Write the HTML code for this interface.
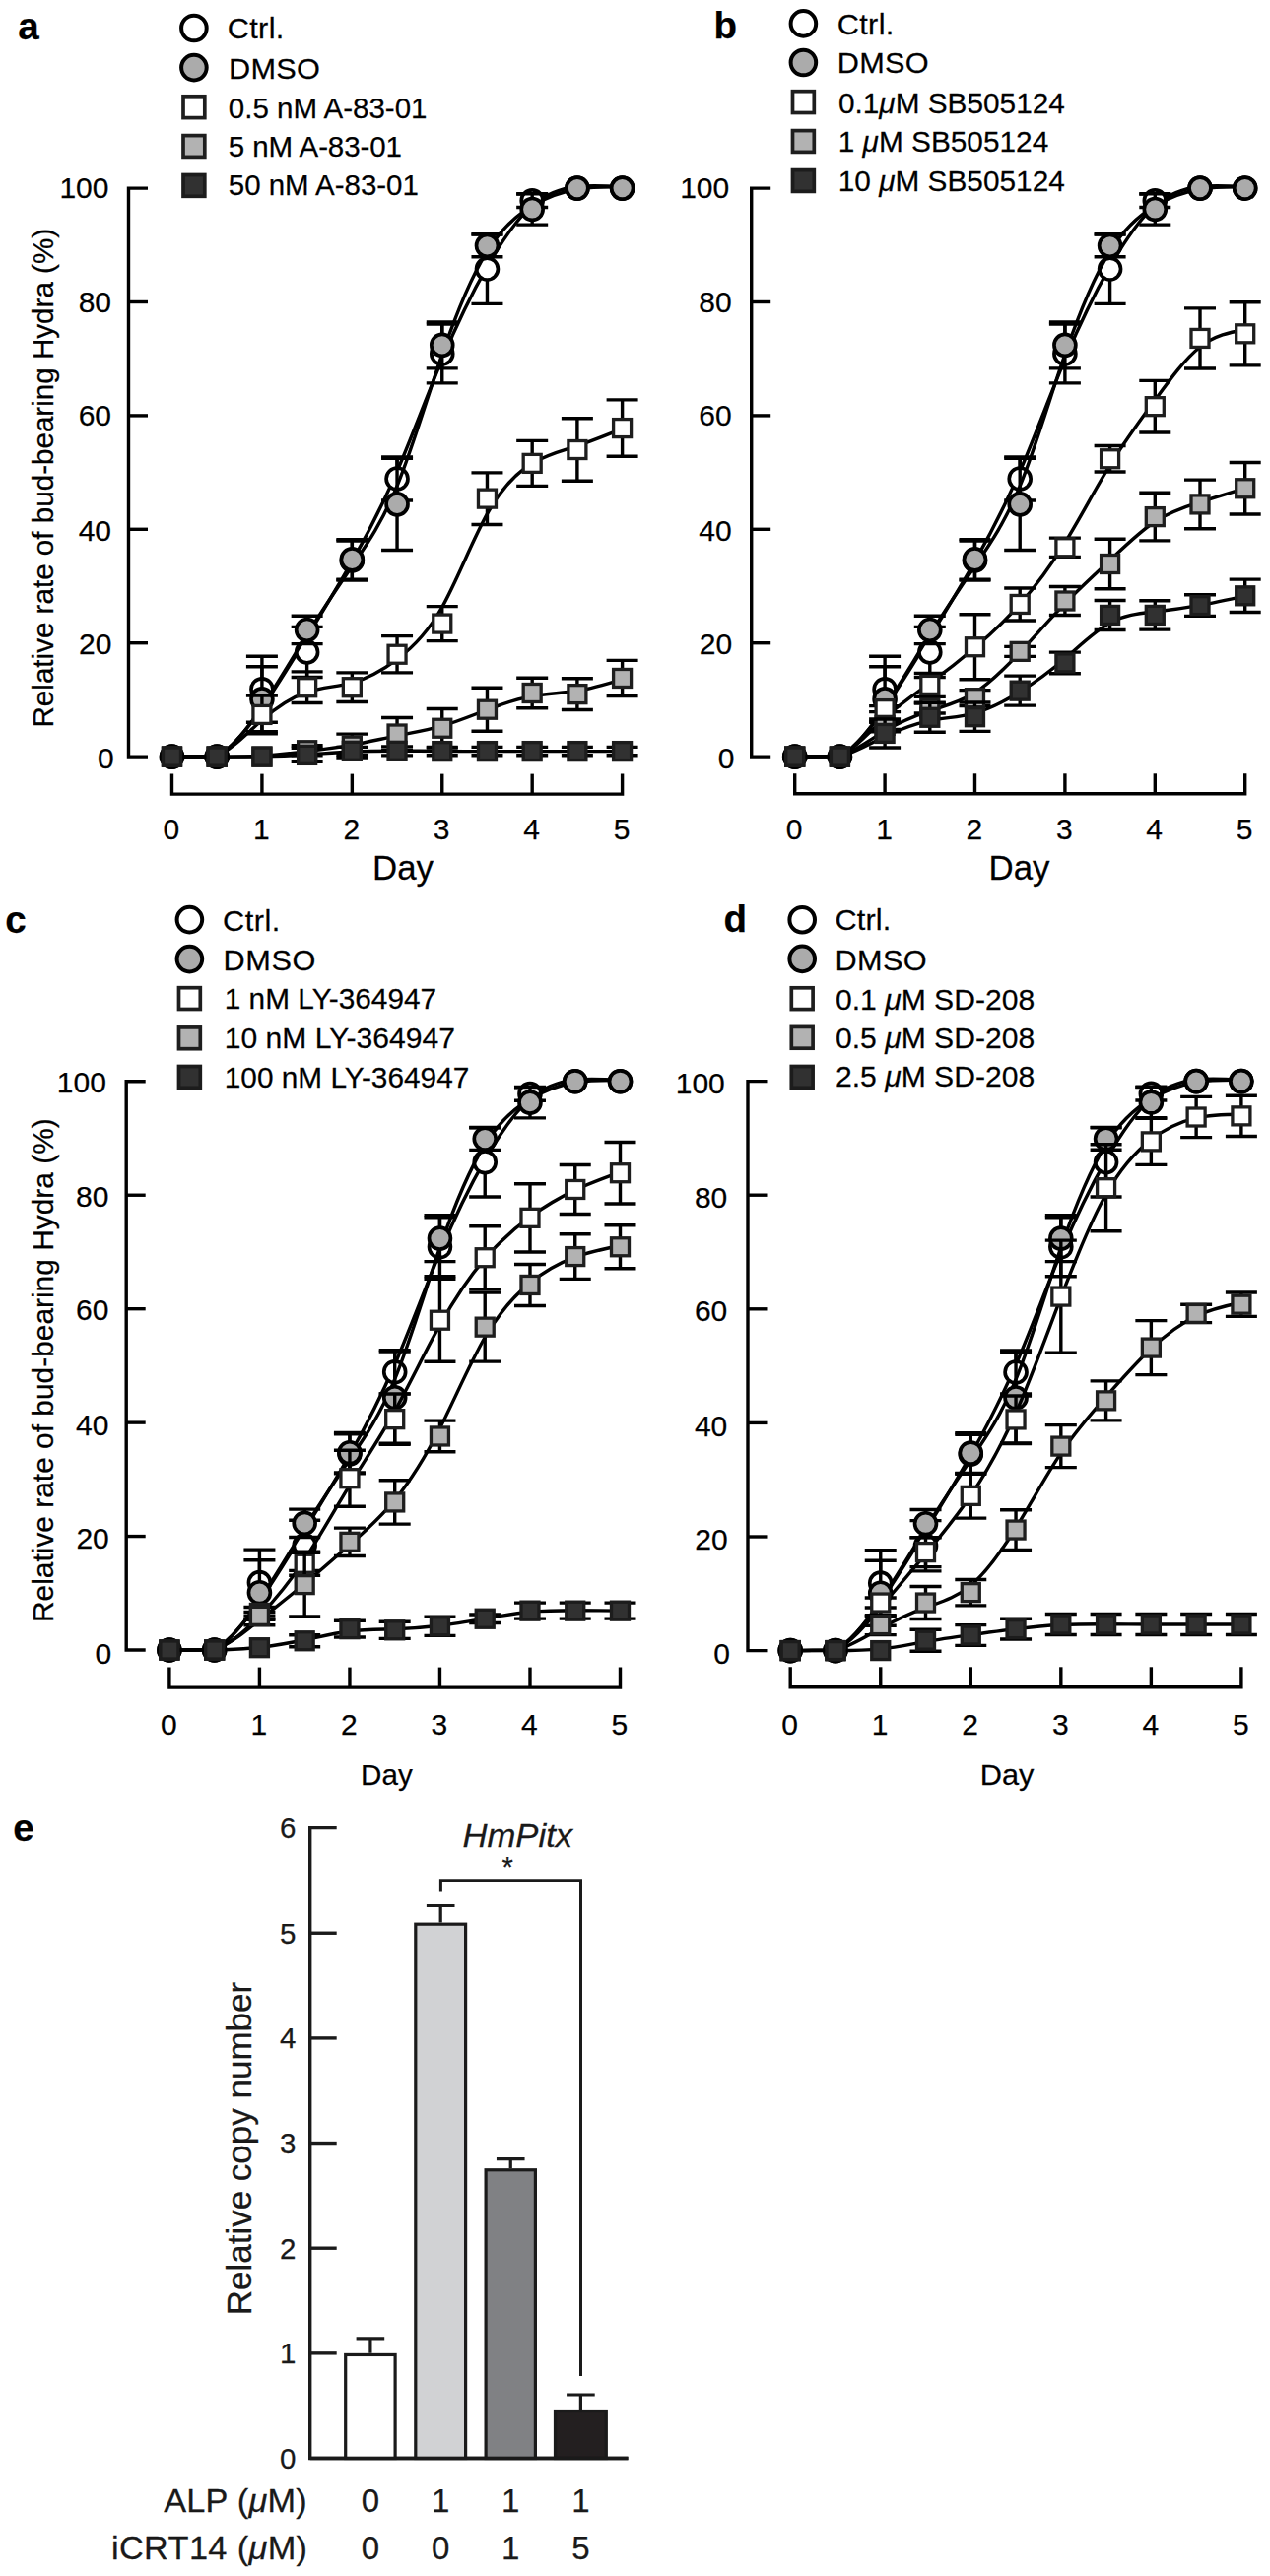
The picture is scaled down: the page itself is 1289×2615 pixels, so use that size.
<!DOCTYPE html><html><head><meta charset="utf-8"><title>Figure</title><style>html,body{margin:0;padding:0;background:#fff;}svg{display:block;}</style></head><body>
<svg width="1289" height="2615" viewBox="0 0 1289 2615">
<style>text{stroke:#111;stroke-width:0.25px}</style>
<rect width="1289" height="2615" fill="#fff"/>
<g stroke="#000" stroke-width="3.4" fill="none">
<path d="M150,191.1 H130.5 V768.1 H150"/>
<path d="M130.5,652.7 H150"/>
<path d="M130.5,537.3 H150"/>
<path d="M130.5,421.9 H150"/>
<path d="M130.5,306.5 H150"/>
<path d="M174.5,785.6 V806.1 H631.6 V785.6"/>
<path d="M265.92,806.1 V785.6"/>
<path d="M357.34,806.1 V785.6"/>
<path d="M448.76,806.1 V785.6"/>
<path d="M540.18,806.1 V785.6"/>
</g>
<g fill="#000" style='font-family:"Liberation Sans", sans-serif;font-size:30px'>
<text x="115.7" y="780.4" text-anchor="end">0</text>
<text x="113.4" y="663.9" text-anchor="end">20</text>
<text x="113" y="548.5" text-anchor="end">40</text>
<text x="113" y="432.2" text-anchor="end">60</text>
<text x="113" y="317" text-anchor="end">80</text>
<text x="110.5" y="200.6" text-anchor="end">100</text>
<text x="173.9" y="852.2" text-anchor="middle">0</text>
<text x="265.32" y="852.2" text-anchor="middle">1</text>
<text x="356.74" y="852.2" text-anchor="middle">2</text>
<text x="448.16" y="852.2" text-anchor="middle">3</text>
<text x="539.58" y="852.2" text-anchor="middle">4</text>
<text x="631" y="852.2" text-anchor="middle">5</text>
</g>
<path d="M174.5,768.1 L220.21,767.63 C235.45,759.84 250.68,740.75 265.92,718.68 C281.16,696.61 296.39,671.56 311.63,646.63 C326.87,621.7 342.1,596.89 357.34,569.92 C372.58,542.96 387.81,513.83 403.05,478.42 C418.29,443.01 433.52,401.32 448.76,364.88 C464,328.45 479.23,297.27 494.47,270.66 C509.71,244.04 524.94,222 540.18,208.77 C555.42,195.55 570.65,191.15 585.89,189.46 C601.13,187.77 616.36,188.79 631.6,189.8" fill="none" stroke="#000" stroke-width="3.4" stroke-linejoin="round"/>
<path d="M265.92,666.23 V733.23 M249.92,666.23 H281.92 M249.92,733.23 H281.92 M311.63,636.33 V687.53 M295.63,636.33 H327.63 M295.63,687.53 H327.63 M357.34,549.04 V589.04 M341.34,549.04 H373.34 M341.34,589.04 H373.34 M403.05,463.85 V508.05 M387.05,463.85 H419.05 M387.05,508.05 H419.05 M448.76,329.11 V388.91 M432.76,329.11 H464.76 M432.76,388.91 H464.76 M494.47,237.73 V308.33 M478.47,237.73 H510.47 M478.47,308.33 H510.47 M540.18,197.09 V210.49 M524.18,197.09 H556.18 M524.18,210.49 H556.18" fill="none" stroke="#000" stroke-width="3.4"/>
<circle cx="174.5" cy="768.1" r="10.95" fill="#fff" stroke="#000" stroke-width="3.7"/>
<circle cx="220.21" cy="768.1" r="10.95" fill="#fff" stroke="#000" stroke-width="3.7"/>
<circle cx="265.92" cy="699.73" r="10.95" fill="#fff" stroke="#000" stroke-width="3.7"/>
<circle cx="311.63" cy="661.93" r="10.95" fill="#fff" stroke="#000" stroke-width="3.7"/>
<circle cx="357.34" cy="569.04" r="10.95" fill="#fff" stroke="#000" stroke-width="3.7"/>
<circle cx="403.05" cy="485.95" r="10.95" fill="#fff" stroke="#000" stroke-width="3.7"/>
<circle cx="448.76" cy="359.01" r="10.95" fill="#fff" stroke="#000" stroke-width="3.7"/>
<circle cx="494.47" cy="273.03" r="10.95" fill="#fff" stroke="#000" stroke-width="3.7"/>
<circle cx="540.18" cy="203.79" r="10.95" fill="#fff" stroke="#000" stroke-width="3.7"/>
<circle cx="585.89" cy="191.1" r="10.95" fill="#fff" stroke="#000" stroke-width="3.7"/>
<circle cx="631.6" cy="191.1" r="10.95" fill="#fff" stroke="#000" stroke-width="3.7"/>
<path d="M174.5,768.1 L220.21,767.63 C235.45,759.73 250.68,740.36 265.92,717.6 C281.16,694.84 296.39,668.69 311.63,644.24 C326.87,619.79 342.1,597.06 357.34,574.71 C372.58,552.37 387.81,530.41 403.05,493.3 C418.29,456.19 433.52,403.93 448.76,359.74 C464,315.54 479.23,279.41 494.47,255.03 C509.71,230.64 524.94,217.99 540.18,208.98 C555.42,199.97 570.65,194.61 585.89,192.01 C601.13,189.42 616.36,189.59 631.6,189.77" fill="none" stroke="#000" stroke-width="3.4" stroke-linejoin="round"/>
<path d="M265.92,676.82 V742.82 M249.92,676.82 H281.92 M249.92,742.82 H281.92 M311.63,625.23 V653.63 M295.63,625.23 H327.63 M295.63,653.63 H327.63 M357.34,547.58 V588.18 M341.34,547.58 H373.34 M341.34,588.18 H373.34 M403.05,465.31 V558.51 M387.05,465.31 H419.05 M387.05,558.51 H419.05 M448.76,326.85 V373.85 M432.76,326.85 H464.76 M432.76,373.85 H464.76 M494.47,238.08 V260.68 M478.47,238.08 H510.47 M478.47,260.68 H510.47 M540.18,196.75 V228.15 M524.18,196.75 H556.18 M524.18,228.15 H556.18" fill="none" stroke="#000" stroke-width="3.4"/>
<circle cx="174.5" cy="768.1" r="10.95" fill="#ababab" stroke="#000" stroke-width="3.7"/>
<circle cx="220.21" cy="768.1" r="10.95" fill="#ababab" stroke="#000" stroke-width="3.7"/>
<circle cx="265.92" cy="709.82" r="10.95" fill="#ababab" stroke="#000" stroke-width="3.7"/>
<circle cx="311.63" cy="639.43" r="10.95" fill="#ababab" stroke="#000" stroke-width="3.7"/>
<circle cx="357.34" cy="567.88" r="10.95" fill="#ababab" stroke="#000" stroke-width="3.7"/>
<circle cx="403.05" cy="511.91" r="10.95" fill="#ababab" stroke="#000" stroke-width="3.7"/>
<circle cx="448.76" cy="350.35" r="10.95" fill="#ababab" stroke="#000" stroke-width="3.7"/>
<circle cx="494.47" cy="249.38" r="10.95" fill="#ababab" stroke="#000" stroke-width="3.7"/>
<circle cx="540.18" cy="212.45" r="10.95" fill="#ababab" stroke="#000" stroke-width="3.7"/>
<circle cx="585.89" cy="191.1" r="10.95" fill="#ababab" stroke="#000" stroke-width="3.7"/>
<circle cx="631.6" cy="191.1" r="10.95" fill="#ababab" stroke="#000" stroke-width="3.7"/>
<path d="M174.5,768.1 L220.21,767.55 C235.45,760.77 250.68,744.21 265.92,730.96 C281.16,717.71 296.39,707.77 311.63,702.67 C326.87,697.57 342.1,697.3 357.34,693.07 C372.58,688.83 387.81,680.61 403.05,669.28 C418.29,657.95 433.52,643.5 448.76,616.28 C464,589.06 479.23,549.07 494.47,521.68 C509.71,494.3 524.94,479.51 540.18,470.31 C555.42,461.11 570.65,457.5 585.89,452.58 C601.13,447.67 616.36,441.44 631.6,435.22" fill="none" stroke="#000" stroke-width="3.4" stroke-linejoin="round"/>
<path d="M265.92,706 V744.8 M249.92,706 H281.92 M249.92,744.8 H281.92 M311.63,681.91 V713.51 M295.63,681.91 H327.63 M295.63,713.51 H327.63 M357.34,682.91 V712.51 M341.34,682.91 H373.34 M341.34,712.51 H373.34 M403.05,645.64 V682.84 M387.05,645.64 H419.05 M387.05,682.84 H419.05 M448.76,615.58 V650.58 M432.76,615.58 H464.76 M432.76,650.58 H464.76 M494.47,479.84 V532.44 M478.47,479.84 H510.47 M478.47,532.44 H510.47 M540.18,447.37 V493.37 M524.18,447.37 H556.18 M524.18,493.37 H556.18 M585.89,424.82 V488.22 M569.89,424.82 H601.89 M569.89,488.22 H601.89 M631.6,405.89 V463.29 M615.6,405.89 H647.6 M615.6,463.29 H647.6" fill="none" stroke="#000" stroke-width="3.4"/>
<rect x="165.5" y="759.1" width="18.0" height="18.0" fill="#fff" stroke="#1e1e1e" stroke-width="3.3"/>
<rect x="211.21" y="759.1" width="18.0" height="18.0" fill="#fff" stroke="#1e1e1e" stroke-width="3.3"/>
<rect x="256.92" y="716.4" width="18.0" height="18.0" fill="#fff" stroke="#1e1e1e" stroke-width="3.3"/>
<rect x="302.63" y="688.71" width="18.0" height="18.0" fill="#fff" stroke="#1e1e1e" stroke-width="3.3"/>
<rect x="348.34" y="688.71" width="18.0" height="18.0" fill="#fff" stroke="#1e1e1e" stroke-width="3.3"/>
<rect x="394.05" y="655.24" width="18.0" height="18.0" fill="#fff" stroke="#1e1e1e" stroke-width="3.3"/>
<rect x="439.76" y="624.08" width="18.0" height="18.0" fill="#fff" stroke="#1e1e1e" stroke-width="3.3"/>
<rect x="485.47" y="497.14" width="18.0" height="18.0" fill="#fff" stroke="#1e1e1e" stroke-width="3.3"/>
<rect x="531.18" y="461.37" width="18.0" height="18.0" fill="#fff" stroke="#1e1e1e" stroke-width="3.3"/>
<rect x="576.89" y="447.52" width="18.0" height="18.0" fill="#fff" stroke="#1e1e1e" stroke-width="3.3"/>
<rect x="622.6" y="425.59" width="18.0" height="18.0" fill="#fff" stroke="#1e1e1e" stroke-width="3.3"/>
<path d="M174.5,768.1 L220.21,768.12 C235.45,768.13 250.68,768.14 265.92,767.22 C281.16,766.3 296.39,764.45 311.63,762.58 C326.87,760.71 342.1,758.82 357.34,756.1 C372.58,753.39 387.81,749.85 403.05,746.83 C418.29,743.81 433.52,741.32 448.76,736.91 C464,732.51 479.23,726.21 494.47,720.43 C509.71,714.66 524.94,709.42 540.18,706.69 C555.42,703.96 570.65,703.74 585.89,701.3 C601.13,698.86 616.36,694.2 631.6,689.54" fill="none" stroke="#000" stroke-width="3.4" stroke-linejoin="round"/>
<path d="M311.63,756.75 V766.75 M295.63,756.75 H327.63 M295.63,766.75 H327.63 M357.34,745.14 V769.14 M341.34,745.14 H373.34 M341.34,769.14 H373.34 M403.05,728.52 V761.52 M387.05,728.52 H419.05 M387.05,761.52 H419.05 M448.76,719.55 V758.95 M432.76,719.55 H464.76 M432.76,758.95 H464.76 M494.47,698.21 V742.21 M478.47,698.21 H510.47 M478.47,742.21 H510.47 M540.18,688.18 V718.78 M524.18,688.18 H556.18 M524.18,718.78 H556.18 M585.89,688.73 V720.53 M569.89,688.73 H601.89 M569.89,720.53 H601.89 M631.6,670.37 V706.57 M615.6,670.37 H647.6 M615.6,706.57 H647.6" fill="none" stroke="#000" stroke-width="3.4"/>
<rect x="165.5" y="759.1" width="18.0" height="18.0" fill="#b2b2b2" stroke="#1e1e1e" stroke-width="3.3"/>
<rect x="211.21" y="759.1" width="18.0" height="18.0" fill="#b2b2b2" stroke="#1e1e1e" stroke-width="3.3"/>
<rect x="256.92" y="759.1" width="18.0" height="18.0" fill="#b2b2b2" stroke="#1e1e1e" stroke-width="3.3"/>
<rect x="302.63" y="752.75" width="18.0" height="18.0" fill="#b2b2b2" stroke="#1e1e1e" stroke-width="3.3"/>
<rect x="348.34" y="748.14" width="18.0" height="18.0" fill="#b2b2b2" stroke="#1e1e1e" stroke-width="3.3"/>
<rect x="394.05" y="736.02" width="18.0" height="18.0" fill="#b2b2b2" stroke="#1e1e1e" stroke-width="3.3"/>
<rect x="439.76" y="730.25" width="18.0" height="18.0" fill="#b2b2b2" stroke="#1e1e1e" stroke-width="3.3"/>
<rect x="485.47" y="711.21" width="18.0" height="18.0" fill="#b2b2b2" stroke="#1e1e1e" stroke-width="3.3"/>
<rect x="531.18" y="694.48" width="18.0" height="18.0" fill="#b2b2b2" stroke="#1e1e1e" stroke-width="3.3"/>
<rect x="576.89" y="695.63" width="18.0" height="18.0" fill="#b2b2b2" stroke="#1e1e1e" stroke-width="3.3"/>
<rect x="622.6" y="679.47" width="18.0" height="18.0" fill="#b2b2b2" stroke="#1e1e1e" stroke-width="3.3"/>
<path d="M174.5,768.1 L220.21,768.11 C235.45,768.14 250.68,768.19 265.92,767.89 C281.16,767.59 296.39,766.93 311.63,765.95 C326.87,764.98 342.1,763.69 357.34,762.99 C372.58,762.29 387.81,762.18 403.05,762.21 C418.29,762.24 433.52,762.4 448.76,762.5 C464,762.59 479.23,762.62 494.47,762.63 C509.71,762.64 524.94,762.63 540.18,762.63 C555.42,762.62 570.65,762.62 585.89,762.62 C601.13,762.62 616.36,762.62 631.6,762.62" fill="none" stroke="#000" stroke-width="3.4" stroke-linejoin="round"/>
<path d="M311.63,759.37 V773.37 M295.63,759.37 H327.63 M295.63,773.37 H327.63 M357.34,758.33 V766.33 M341.34,758.33 H373.34 M341.34,766.33 H373.34 M403.05,757.83 V766.83 M387.05,757.83 H419.05 M387.05,766.83 H419.05 M448.76,758.42 V766.82 M432.76,758.42 H464.76 M432.76,766.82 H464.76 M494.47,758.42 V766.82 M478.47,758.42 H510.47 M478.47,766.82 H510.47 M540.18,758.42 V766.82 M524.18,758.42 H556.18 M524.18,766.82 H556.18 M585.89,758.42 V766.82 M569.89,758.42 H601.89 M569.89,766.82 H601.89 M631.6,758.42 V766.82 M615.6,758.42 H647.6 M615.6,766.82 H647.6" fill="none" stroke="#000" stroke-width="3.4"/>
<rect x="165.5" y="759.1" width="18.0" height="18.0" fill="#313131" stroke="#1c1c1c" stroke-width="3.3"/>
<rect x="211.21" y="759.1" width="18.0" height="18.0" fill="#313131" stroke="#1c1c1c" stroke-width="3.3"/>
<rect x="256.92" y="759.1" width="18.0" height="18.0" fill="#313131" stroke="#1c1c1c" stroke-width="3.3"/>
<rect x="302.63" y="757.37" width="18.0" height="18.0" fill="#313131" stroke="#1c1c1c" stroke-width="3.3"/>
<rect x="348.34" y="753.33" width="18.0" height="18.0" fill="#313131" stroke="#1c1c1c" stroke-width="3.3"/>
<rect x="394.05" y="753.33" width="18.0" height="18.0" fill="#313131" stroke="#1c1c1c" stroke-width="3.3"/>
<rect x="439.76" y="753.62" width="18.0" height="18.0" fill="#313131" stroke="#1c1c1c" stroke-width="3.3"/>
<rect x="485.47" y="753.62" width="18.0" height="18.0" fill="#313131" stroke="#1c1c1c" stroke-width="3.3"/>
<rect x="531.18" y="753.62" width="18.0" height="18.0" fill="#313131" stroke="#1c1c1c" stroke-width="3.3"/>
<rect x="576.89" y="753.62" width="18.0" height="18.0" fill="#313131" stroke="#1c1c1c" stroke-width="3.3"/>
<rect x="622.6" y="753.62" width="18.0" height="18.0" fill="#313131" stroke="#1c1c1c" stroke-width="3.3"/>
<circle cx="196.9" cy="28.5" r="12.8" fill="#fff" stroke="#000" stroke-width="4.0"/>
<circle cx="196.9" cy="68.6" r="12.8" fill="#ababab" stroke="#000" stroke-width="4.0"/>
<rect x="186" y="97.8" width="21.8" height="21.8" fill="#fff" stroke="#1e1e1e" stroke-width="3.7"/>
<rect x="186" y="137.6" width="21.8" height="21.8" fill="#b2b2b2" stroke="#1e1e1e" stroke-width="3.7"/>
<rect x="186" y="177.5" width="21.8" height="21.8" fill="#313131" stroke="#1c1c1c" stroke-width="3.7"/>
<g stroke="#000" stroke-width="3.4" fill="none">
<path d="M782.2,191.1 H762.7 V768.1 H782.2"/>
<path d="M762.7,652.7 H782.2"/>
<path d="M762.7,537.3 H782.2"/>
<path d="M762.7,421.9 H782.2"/>
<path d="M762.7,306.5 H782.2"/>
<path d="M806.7,785.3 V805.8 H1263.7 V785.3"/>
<path d="M898.1,805.8 V785.3"/>
<path d="M989.5,805.8 V785.3"/>
<path d="M1080.9,805.8 V785.3"/>
<path d="M1172.3,805.8 V785.3"/>
</g>
<g fill="#000" style='font-family:"Liberation Sans", sans-serif;font-size:30px'>
<text x="745.4" y="780.4" text-anchor="end">0</text>
<text x="743.1" y="663.9" text-anchor="end">20</text>
<text x="742.7" y="548.5" text-anchor="end">40</text>
<text x="742.7" y="432.2" text-anchor="end">60</text>
<text x="742.7" y="317" text-anchor="end">80</text>
<text x="740.2" y="200.6" text-anchor="end">100</text>
<text x="806.1" y="852.2" text-anchor="middle">0</text>
<text x="897.5" y="852.2" text-anchor="middle">1</text>
<text x="988.9" y="852.2" text-anchor="middle">2</text>
<text x="1080.3" y="852.2" text-anchor="middle">3</text>
<text x="1171.7" y="852.2" text-anchor="middle">4</text>
<text x="1263.1" y="852.2" text-anchor="middle">5</text>
</g>
<path d="M806.7,768.1 L852.4,767.63 C867.63,759.84 882.87,740.75 898.1,718.68 C913.33,696.61 928.57,671.56 943.8,646.63 C959.03,621.7 974.27,596.89 989.5,569.92 C1004.73,542.96 1019.97,513.83 1035.2,478.42 C1050.43,443.01 1065.67,401.32 1080.9,364.88 C1096.13,328.45 1111.37,297.27 1126.6,270.66 C1141.83,244.04 1157.07,222 1172.3,208.77 C1187.53,195.55 1202.77,191.15 1218,189.46 C1233.23,187.77 1248.47,188.79 1263.7,189.8" fill="none" stroke="#000" stroke-width="3.4" stroke-linejoin="round"/>
<path d="M898.1,666.23 V733.23 M882.1,666.23 H914.1 M882.1,733.23 H914.1 M943.8,636.33 V687.53 M927.8,636.33 H959.8 M927.8,687.53 H959.8 M989.5,549.04 V589.04 M973.5,549.04 H1005.5 M973.5,589.04 H1005.5 M1035.2,463.85 V508.05 M1019.2,463.85 H1051.2 M1019.2,508.05 H1051.2 M1080.9,329.11 V388.91 M1064.9,329.11 H1096.9 M1064.9,388.91 H1096.9 M1126.6,237.73 V308.33 M1110.6,237.73 H1142.6 M1110.6,308.33 H1142.6 M1172.3,197.09 V210.49 M1156.3,197.09 H1188.3 M1156.3,210.49 H1188.3" fill="none" stroke="#000" stroke-width="3.4"/>
<circle cx="806.7" cy="768.1" r="10.95" fill="#fff" stroke="#000" stroke-width="3.7"/>
<circle cx="852.4" cy="768.1" r="10.95" fill="#fff" stroke="#000" stroke-width="3.7"/>
<circle cx="898.1" cy="699.73" r="10.95" fill="#fff" stroke="#000" stroke-width="3.7"/>
<circle cx="943.8" cy="661.93" r="10.95" fill="#fff" stroke="#000" stroke-width="3.7"/>
<circle cx="989.5" cy="569.04" r="10.95" fill="#fff" stroke="#000" stroke-width="3.7"/>
<circle cx="1035.2" cy="485.95" r="10.95" fill="#fff" stroke="#000" stroke-width="3.7"/>
<circle cx="1080.9" cy="359.01" r="10.95" fill="#fff" stroke="#000" stroke-width="3.7"/>
<circle cx="1126.6" cy="273.03" r="10.95" fill="#fff" stroke="#000" stroke-width="3.7"/>
<circle cx="1172.3" cy="203.79" r="10.95" fill="#fff" stroke="#000" stroke-width="3.7"/>
<circle cx="1218" cy="191.1" r="10.95" fill="#fff" stroke="#000" stroke-width="3.7"/>
<circle cx="1263.7" cy="191.1" r="10.95" fill="#fff" stroke="#000" stroke-width="3.7"/>
<path d="M806.7,768.1 L852.4,767.63 C867.63,759.73 882.87,740.36 898.1,717.6 C913.33,694.84 928.57,668.69 943.8,644.24 C959.03,619.79 974.27,597.06 989.5,574.71 C1004.73,552.37 1019.97,530.41 1035.2,493.3 C1050.43,456.19 1065.67,403.93 1080.9,359.74 C1096.13,315.54 1111.37,279.41 1126.6,255.03 C1141.83,230.64 1157.07,217.99 1172.3,208.98 C1187.53,199.97 1202.77,194.61 1218,192.01 C1233.23,189.42 1248.47,189.59 1263.7,189.77" fill="none" stroke="#000" stroke-width="3.4" stroke-linejoin="round"/>
<path d="M898.1,676.82 V742.82 M882.1,676.82 H914.1 M882.1,742.82 H914.1 M943.8,625.23 V653.63 M927.8,625.23 H959.8 M927.8,653.63 H959.8 M989.5,547.58 V588.18 M973.5,547.58 H1005.5 M973.5,588.18 H1005.5 M1035.2,465.31 V558.51 M1019.2,465.31 H1051.2 M1019.2,558.51 H1051.2 M1080.9,326.85 V373.85 M1064.9,326.85 H1096.9 M1064.9,373.85 H1096.9 M1126.6,238.08 V260.68 M1110.6,238.08 H1142.6 M1110.6,260.68 H1142.6 M1172.3,196.75 V228.15 M1156.3,196.75 H1188.3 M1156.3,228.15 H1188.3" fill="none" stroke="#000" stroke-width="3.4"/>
<circle cx="806.7" cy="768.1" r="10.95" fill="#ababab" stroke="#000" stroke-width="3.7"/>
<circle cx="852.4" cy="768.1" r="10.95" fill="#ababab" stroke="#000" stroke-width="3.7"/>
<circle cx="898.1" cy="709.82" r="10.95" fill="#ababab" stroke="#000" stroke-width="3.7"/>
<circle cx="943.8" cy="639.43" r="10.95" fill="#ababab" stroke="#000" stroke-width="3.7"/>
<circle cx="989.5" cy="567.88" r="10.95" fill="#ababab" stroke="#000" stroke-width="3.7"/>
<circle cx="1035.2" cy="511.91" r="10.95" fill="#ababab" stroke="#000" stroke-width="3.7"/>
<circle cx="1080.9" cy="350.35" r="10.95" fill="#ababab" stroke="#000" stroke-width="3.7"/>
<circle cx="1126.6" cy="249.38" r="10.95" fill="#ababab" stroke="#000" stroke-width="3.7"/>
<circle cx="1172.3" cy="212.45" r="10.95" fill="#ababab" stroke="#000" stroke-width="3.7"/>
<circle cx="1218" cy="191.1" r="10.95" fill="#ababab" stroke="#000" stroke-width="3.7"/>
<circle cx="1263.7" cy="191.1" r="10.95" fill="#ababab" stroke="#000" stroke-width="3.7"/>
<path d="M806.7,768.1 L852.4,767.51 C867.63,760.26 882.87,742.57 898.1,728.61 C913.33,714.65 928.57,704.42 943.8,693.38 C959.03,682.34 974.27,670.5 989.5,657.51 C1004.73,644.52 1019.97,630.39 1035.2,613.18 C1050.43,595.96 1065.67,575.65 1080.9,550.91 C1096.13,526.17 1111.37,497 1126.6,472.15 C1141.83,447.3 1157.07,426.78 1172.3,406 C1187.53,385.23 1202.77,364.21 1218,352.24 C1233.23,340.28 1248.47,337.37 1263.7,334.46" fill="none" stroke="#000" stroke-width="3.4" stroke-linejoin="round"/>
<path d="M898.1,716.63 V722.63 M882.1,716.63 H914.1 M882.1,722.63 H914.1 M943.8,683.4 V707.4 M927.8,683.4 H959.8 M927.8,707.4 H959.8 M989.5,623.74 V689.74 M973.5,623.74 H1005.5 M973.5,689.74 H1005.5 M1035.2,596.96 V629.96 M1019.2,596.96 H1051.2 M1019.2,629.96 H1051.2 M1080.9,546.16 V565.36 M1064.9,546.16 H1096.9 M1064.9,565.36 H1096.9 M1126.6,452.45 V479.05 M1110.6,452.45 H1142.6 M1110.6,479.05 H1142.6 M1172.3,386.37 V438.97 M1156.3,386.37 H1188.3 M1156.3,438.97 H1188.3 M1218,312.83 V374.03 M1202,312.83 H1234 M1202,374.03 H1234 M1263.7,306.71 V370.91 M1247.7,306.71 H1279.7 M1247.7,370.91 H1279.7" fill="none" stroke="#000" stroke-width="3.4"/>
<rect x="797.7" y="759.1" width="18.0" height="18.0" fill="#fff" stroke="#1e1e1e" stroke-width="3.3"/>
<rect x="843.4" y="759.1" width="18.0" height="18.0" fill="#fff" stroke="#1e1e1e" stroke-width="3.3"/>
<rect x="889.1" y="710.63" width="18.0" height="18.0" fill="#fff" stroke="#1e1e1e" stroke-width="3.3"/>
<rect x="934.8" y="686.4" width="18.0" height="18.0" fill="#fff" stroke="#1e1e1e" stroke-width="3.3"/>
<rect x="980.5" y="647.74" width="18.0" height="18.0" fill="#fff" stroke="#1e1e1e" stroke-width="3.3"/>
<rect x="1026.2" y="604.46" width="18.0" height="18.0" fill="#fff" stroke="#1e1e1e" stroke-width="3.3"/>
<rect x="1071.9" y="546.76" width="18.0" height="18.0" fill="#fff" stroke="#1e1e1e" stroke-width="3.3"/>
<rect x="1117.6" y="456.75" width="18.0" height="18.0" fill="#fff" stroke="#1e1e1e" stroke-width="3.3"/>
<rect x="1163.3" y="403.67" width="18.0" height="18.0" fill="#fff" stroke="#1e1e1e" stroke-width="3.3"/>
<rect x="1209" y="334.43" width="18.0" height="18.0" fill="#fff" stroke="#1e1e1e" stroke-width="3.3"/>
<rect x="1254.7" y="329.81" width="18.0" height="18.0" fill="#fff" stroke="#1e1e1e" stroke-width="3.3"/>
<path d="M806.7,768.1 L852.4,767.7 C867.63,762.82 882.87,750.94 898.1,741.88 C913.33,732.82 928.57,726.6 943.8,721.57 C959.03,716.54 974.27,712.71 989.5,703.19 C1004.73,693.67 1019.97,678.46 1035.2,662.1 C1050.43,645.74 1065.67,628.24 1080.9,612.58 C1096.13,596.91 1111.37,583.09 1126.6,568.73 C1141.83,554.37 1157.07,539.47 1172.3,529.51 C1187.53,519.56 1202.77,514.55 1218,509.73 C1233.23,504.91 1248.47,500.29 1263.7,495.66" fill="none" stroke="#000" stroke-width="3.4" stroke-linejoin="round"/>
<path d="M898.1,732.37 V740.37 M882.1,732.37 H914.1 M882.1,740.37 H914.1 M943.8,714.06 V724.06 M927.8,714.06 H959.8 M927.8,724.06 H959.8 M989.5,700.67 V716.67 M973.5,700.67 H1005.5 M973.5,716.67 H1005.5 M1035.2,656.36 V666.36 M1019.2,656.36 H1051.2 M1019.2,666.36 H1051.2 M1080.9,595.5 V624.5 M1064.9,595.5 H1096.9 M1064.9,624.5 H1096.9 M1126.6,547.3 V597.7 M1110.6,547.3 H1142.6 M1110.6,597.7 H1142.6 M1172.3,500.31 V548.91 M1156.3,500.31 H1188.3 M1156.3,548.91 H1188.3 M1218,487.11 V536.71 M1202,487.11 H1234 M1202,536.71 H1234 M1263.7,469.56 V521.96 M1247.7,469.56 H1279.7 M1247.7,521.96 H1279.7" fill="none" stroke="#000" stroke-width="3.4"/>
<rect x="797.7" y="759.1" width="18.0" height="18.0" fill="#b2b2b2" stroke="#1e1e1e" stroke-width="3.3"/>
<rect x="843.4" y="759.1" width="18.0" height="18.0" fill="#b2b2b2" stroke="#1e1e1e" stroke-width="3.3"/>
<rect x="889.1" y="727.37" width="18.0" height="18.0" fill="#b2b2b2" stroke="#1e1e1e" stroke-width="3.3"/>
<rect x="934.8" y="710.06" width="18.0" height="18.0" fill="#b2b2b2" stroke="#1e1e1e" stroke-width="3.3"/>
<rect x="980.5" y="699.67" width="18.0" height="18.0" fill="#b2b2b2" stroke="#1e1e1e" stroke-width="3.3"/>
<rect x="1026.2" y="652.36" width="18.0" height="18.0" fill="#b2b2b2" stroke="#1e1e1e" stroke-width="3.3"/>
<rect x="1071.9" y="601" width="18.0" height="18.0" fill="#b2b2b2" stroke="#1e1e1e" stroke-width="3.3"/>
<rect x="1117.6" y="563.5" width="18.0" height="18.0" fill="#b2b2b2" stroke="#1e1e1e" stroke-width="3.3"/>
<rect x="1163.3" y="515.61" width="18.0" height="18.0" fill="#b2b2b2" stroke="#1e1e1e" stroke-width="3.3"/>
<rect x="1209" y="502.91" width="18.0" height="18.0" fill="#b2b2b2" stroke="#1e1e1e" stroke-width="3.3"/>
<rect x="1254.7" y="486.76" width="18.0" height="18.0" fill="#b2b2b2" stroke="#1e1e1e" stroke-width="3.3"/>
<path d="M806.7,768.1 L852.4,767.8 C867.63,764.05 882.87,754.91 898.1,747.55 C913.33,740.2 928.57,734.64 943.8,731.59 C959.03,728.53 974.27,727.99 989.5,723.8 C1004.73,719.61 1019.97,711.76 1035.2,702.27 C1050.43,692.77 1065.67,681.62 1080.9,668.51 C1096.13,655.41 1111.37,640.36 1126.6,632.18 C1141.83,624 1157.07,622.7 1172.3,620.96 C1187.53,619.22 1202.77,617.04 1218,614.31 C1233.23,611.59 1248.47,608.33 1263.7,605.07" fill="none" stroke="#000" stroke-width="3.4" stroke-linejoin="round"/>
<path d="M898.1,729.94 V758.94 M882.1,729.94 H914.1 M882.1,758.94 H914.1 M943.8,713.29 V743.29 M927.8,713.29 H959.8 M927.8,743.29 H959.8 M989.5,713.01 V742.41 M973.5,713.01 H1005.5 M973.5,742.41 H1005.5 M1035.2,686.17 V716.17 M1019.2,686.17 H1051.2 M1019.2,716.17 H1051.2 M1080.9,662.1 V683.69 M1064.9,662.1 H1096.9 M1064.9,683.69 H1096.9 M1126.6,609.43 V639.43 M1110.6,609.43 H1142.6 M1110.6,639.43 H1142.6 M1172.3,609.73 V639.13 M1156.3,609.73 H1188.3 M1156.3,639.13 H1188.3 M1218,603.82 V625.42 M1202,603.82 H1234 M1202,625.42 H1234 M1263.7,588.11 V621.51 M1247.7,588.11 H1279.7 M1247.7,621.51 H1279.7" fill="none" stroke="#000" stroke-width="3.4"/>
<rect x="797.7" y="759.1" width="18.0" height="18.0" fill="#313131" stroke="#1c1c1c" stroke-width="3.3"/>
<rect x="843.4" y="759.1" width="18.0" height="18.0" fill="#313131" stroke="#1c1c1c" stroke-width="3.3"/>
<rect x="889.1" y="735.44" width="18.0" height="18.0" fill="#313131" stroke="#1c1c1c" stroke-width="3.3"/>
<rect x="934.8" y="719.29" width="18.0" height="18.0" fill="#313131" stroke="#1c1c1c" stroke-width="3.3"/>
<rect x="980.5" y="718.71" width="18.0" height="18.0" fill="#313131" stroke="#1c1c1c" stroke-width="3.3"/>
<rect x="1026.2" y="692.17" width="18.0" height="18.0" fill="#313131" stroke="#1c1c1c" stroke-width="3.3"/>
<rect x="1071.9" y="663.89" width="18.0" height="18.0" fill="#313131" stroke="#1c1c1c" stroke-width="3.3"/>
<rect x="1117.6" y="615.43" width="18.0" height="18.0" fill="#313131" stroke="#1c1c1c" stroke-width="3.3"/>
<rect x="1163.3" y="615.43" width="18.0" height="18.0" fill="#313131" stroke="#1c1c1c" stroke-width="3.3"/>
<rect x="1209" y="605.62" width="18.0" height="18.0" fill="#313131" stroke="#1c1c1c" stroke-width="3.3"/>
<rect x="1254.7" y="595.81" width="18.0" height="18.0" fill="#313131" stroke="#1c1c1c" stroke-width="3.3"/>
<circle cx="815.4" cy="23.9" r="12.8" fill="#fff" stroke="#000" stroke-width="4.0"/>
<circle cx="815.4" cy="63.5" r="12.8" fill="#ababab" stroke="#000" stroke-width="4.0"/>
<rect x="804.5" y="92.7" width="21.8" height="21.8" fill="#fff" stroke="#1e1e1e" stroke-width="3.7"/>
<rect x="804.5" y="132.6" width="21.8" height="21.8" fill="#b2b2b2" stroke="#1e1e1e" stroke-width="3.7"/>
<rect x="804.5" y="172.6" width="21.8" height="21.8" fill="#313131" stroke="#1c1c1c" stroke-width="3.7"/>
<g stroke="#000" stroke-width="3.4" fill="none">
<path d="M147.7,1097.8 H128.2 V1675 H147.7"/>
<path d="M128.2,1559.56 H147.7"/>
<path d="M128.2,1444.12 H147.7"/>
<path d="M128.2,1328.68 H147.7"/>
<path d="M128.2,1213.24 H147.7"/>
<path d="M171.9,1692.6 V1713.1 H629.5 V1692.6"/>
<path d="M263.42,1713.1 V1692.6"/>
<path d="M354.94,1713.1 V1692.6"/>
<path d="M446.46,1713.1 V1692.6"/>
<path d="M537.98,1713.1 V1692.6"/>
</g>
<g fill="#000" style='font-family:"Liberation Sans", sans-serif;font-size:30px'>
<text x="113.1" y="1688.6" text-anchor="end">0</text>
<text x="110.8" y="1572.1" text-anchor="end">20</text>
<text x="110.4" y="1456.7" text-anchor="end">40</text>
<text x="110.4" y="1340.4" text-anchor="end">60</text>
<text x="110.4" y="1225.2" text-anchor="end">80</text>
<text x="107.9" y="1108.8" text-anchor="end">100</text>
<text x="171.3" y="1760.5" text-anchor="middle">0</text>
<text x="262.82" y="1760.5" text-anchor="middle">1</text>
<text x="354.34" y="1760.5" text-anchor="middle">2</text>
<text x="445.86" y="1760.5" text-anchor="middle">3</text>
<text x="537.38" y="1760.5" text-anchor="middle">4</text>
<text x="628.9" y="1760.5" text-anchor="middle">5</text>
</g>
<path d="M171.9,1675 L217.66,1674.53 C232.91,1666.74 248.17,1647.64 263.42,1625.56 C278.67,1603.48 293.93,1578.42 309.18,1553.48 C324.43,1528.55 339.69,1503.73 354.94,1476.75 C370.19,1449.78 385.45,1420.65 400.7,1385.22 C415.95,1349.8 431.21,1308.09 446.46,1271.64 C461.71,1235.19 476.97,1204.01 492.22,1177.38 C507.47,1150.76 522.73,1128.71 537.98,1115.48 C553.23,1102.25 568.49,1097.85 583.74,1096.16 C598.99,1094.47 614.25,1095.49 629.5,1096.5" fill="none" stroke="#000" stroke-width="3.4" stroke-linejoin="round"/>
<path d="M263.42,1573.1 V1640.1 M247.42,1573.1 H279.42 M247.42,1640.1 H279.42 M309.18,1543.2 V1594.4 M293.18,1543.2 H325.18 M293.18,1594.4 H325.18 M354.94,1455.87 V1495.87 M338.94,1455.87 H370.94 M338.94,1495.87 H370.94 M400.7,1370.65 V1414.85 M384.7,1370.65 H416.7 M384.7,1414.85 H416.7 M446.46,1235.87 V1295.67 M430.46,1235.87 H462.46 M430.46,1295.67 H462.46 M492.22,1144.46 V1215.06 M476.22,1144.46 H508.22 M476.22,1215.06 H508.22 M537.98,1103.8 V1117.2 M521.98,1103.8 H553.98 M521.98,1117.2 H553.98" fill="none" stroke="#000" stroke-width="3.4"/>
<circle cx="171.9" cy="1675" r="10.95" fill="#fff" stroke="#000" stroke-width="3.7"/>
<circle cx="217.66" cy="1675" r="10.95" fill="#fff" stroke="#000" stroke-width="3.7"/>
<circle cx="263.42" cy="1606.6" r="10.95" fill="#fff" stroke="#000" stroke-width="3.7"/>
<circle cx="309.18" cy="1568.8" r="10.95" fill="#fff" stroke="#000" stroke-width="3.7"/>
<circle cx="354.94" cy="1475.87" r="10.95" fill="#fff" stroke="#000" stroke-width="3.7"/>
<circle cx="400.7" cy="1392.75" r="10.95" fill="#fff" stroke="#000" stroke-width="3.7"/>
<circle cx="446.46" cy="1265.77" r="10.95" fill="#fff" stroke="#000" stroke-width="3.7"/>
<circle cx="492.22" cy="1179.76" r="10.95" fill="#fff" stroke="#000" stroke-width="3.7"/>
<circle cx="537.98" cy="1110.5" r="10.95" fill="#fff" stroke="#000" stroke-width="3.7"/>
<circle cx="583.74" cy="1097.8" r="10.95" fill="#fff" stroke="#000" stroke-width="3.7"/>
<circle cx="629.5" cy="1097.8" r="10.95" fill="#fff" stroke="#000" stroke-width="3.7"/>
<path d="M171.9,1675 L217.66,1674.53 C232.91,1666.63 248.17,1647.25 263.42,1624.48 C278.67,1601.71 293.93,1575.55 309.18,1551.1 C324.43,1526.64 339.69,1503.9 354.94,1481.54 C370.19,1459.19 385.45,1437.23 400.7,1400.11 C415.95,1362.99 431.21,1310.71 446.46,1266.5 C461.71,1222.28 476.97,1186.14 492.22,1161.75 C507.47,1137.35 522.73,1124.7 537.98,1115.69 C553.23,1106.68 568.49,1101.31 583.74,1098.71 C598.99,1096.12 614.25,1096.29 629.5,1096.47" fill="none" stroke="#000" stroke-width="3.4" stroke-linejoin="round"/>
<path d="M263.42,1583.7 V1649.7 M247.42,1583.7 H279.42 M247.42,1649.7 H279.42 M309.18,1532.08 V1560.48 M293.18,1532.08 H325.18 M293.18,1560.48 H325.18 M354.94,1454.41 V1495.01 M338.94,1454.41 H370.94 M338.94,1495.01 H370.94 M400.7,1372.12 V1465.32 M384.7,1372.12 H416.7 M384.7,1465.32 H416.7 M446.46,1233.61 V1280.61 M430.46,1233.61 H462.46 M430.46,1280.61 H462.46 M492.22,1144.8 V1167.4 M476.22,1144.8 H508.22 M476.22,1167.4 H508.22 M537.98,1103.46 V1134.86 M521.98,1103.46 H553.98 M521.98,1134.86 H553.98" fill="none" stroke="#000" stroke-width="3.4"/>
<circle cx="171.9" cy="1675" r="10.95" fill="#ababab" stroke="#000" stroke-width="3.7"/>
<circle cx="217.66" cy="1675" r="10.95" fill="#ababab" stroke="#000" stroke-width="3.7"/>
<circle cx="263.42" cy="1616.7" r="10.95" fill="#ababab" stroke="#000" stroke-width="3.7"/>
<circle cx="309.18" cy="1546.28" r="10.95" fill="#ababab" stroke="#000" stroke-width="3.7"/>
<circle cx="354.94" cy="1474.71" r="10.95" fill="#ababab" stroke="#000" stroke-width="3.7"/>
<circle cx="400.7" cy="1418.72" r="10.95" fill="#ababab" stroke="#000" stroke-width="3.7"/>
<circle cx="446.46" cy="1257.11" r="10.95" fill="#ababab" stroke="#000" stroke-width="3.7"/>
<circle cx="492.22" cy="1156.1" r="10.95" fill="#ababab" stroke="#000" stroke-width="3.7"/>
<circle cx="537.98" cy="1119.16" r="10.95" fill="#ababab" stroke="#000" stroke-width="3.7"/>
<circle cx="583.74" cy="1097.8" r="10.95" fill="#ababab" stroke="#000" stroke-width="3.7"/>
<circle cx="629.5" cy="1097.8" r="10.95" fill="#ababab" stroke="#000" stroke-width="3.7"/>
<path d="M171.9,1675 L217.66,1674.7 C232.91,1669.4 248.17,1656.42 263.42,1640.62 C278.67,1624.82 293.93,1606.22 309.18,1583.16 C324.43,1560.1 339.69,1532.58 354.94,1507.53 C370.19,1482.47 385.45,1459.87 400.7,1432.39 C415.95,1404.91 431.21,1372.55 446.46,1345.19 C461.71,1317.83 476.97,1295.47 492.22,1277.64 C507.47,1259.82 522.73,1246.52 537.98,1235.4 C553.23,1224.27 568.49,1215.32 583.74,1208.09 C598.99,1200.87 614.25,1195.38 629.5,1189.9" fill="none" stroke="#000" stroke-width="3.4" stroke-linejoin="round"/>
<path d="M263.42,1631.48 V1643.48 M247.42,1631.48 H279.42 M247.42,1643.48 H279.42 M309.18,1575.27 V1599.27 M293.18,1575.27 H325.18 M293.18,1599.27 H325.18 M354.94,1472.19 V1529.19 M338.94,1472.19 H370.94 M338.94,1529.19 H370.94 M400.7,1415.06 V1466.26 M384.7,1415.06 H416.7 M384.7,1466.26 H416.7 M446.46,1298.22 V1382.22 M430.46,1298.22 H462.46 M430.46,1382.22 H462.46 M492.22,1244.73 V1308.73 M476.22,1244.73 H508.22 M476.22,1308.73 H508.22 M537.98,1201.73 V1270.93 M521.98,1201.73 H553.98 M521.98,1270.93 H553.98 M583.74,1182.47 V1232.47 M567.74,1182.47 H599.74 M567.74,1232.47 H599.74 M629.5,1159.53 V1221.93 M613.5,1159.53 H645.5 M613.5,1221.93 H645.5" fill="none" stroke="#000" stroke-width="3.4"/>
<rect x="162.9" y="1666" width="18.0" height="18.0" fill="#fff" stroke="#1e1e1e" stroke-width="3.3"/>
<rect x="208.66" y="1666" width="18.0" height="18.0" fill="#fff" stroke="#1e1e1e" stroke-width="3.3"/>
<rect x="254.42" y="1628.48" width="18.0" height="18.0" fill="#fff" stroke="#1e1e1e" stroke-width="3.3"/>
<rect x="300.18" y="1578.27" width="18.0" height="18.0" fill="#fff" stroke="#1e1e1e" stroke-width="3.3"/>
<rect x="345.94" y="1491.69" width="18.0" height="18.0" fill="#fff" stroke="#1e1e1e" stroke-width="3.3"/>
<rect x="391.7" y="1431.66" width="18.0" height="18.0" fill="#fff" stroke="#1e1e1e" stroke-width="3.3"/>
<rect x="437.46" y="1331.22" width="18.0" height="18.0" fill="#fff" stroke="#1e1e1e" stroke-width="3.3"/>
<rect x="483.22" y="1267.73" width="18.0" height="18.0" fill="#fff" stroke="#1e1e1e" stroke-width="3.3"/>
<rect x="528.98" y="1227.33" width="18.0" height="18.0" fill="#fff" stroke="#1e1e1e" stroke-width="3.3"/>
<rect x="574.74" y="1198.47" width="18.0" height="18.0" fill="#fff" stroke="#1e1e1e" stroke-width="3.3"/>
<rect x="620.5" y="1181.73" width="18.0" height="18.0" fill="#fff" stroke="#1e1e1e" stroke-width="3.3"/>
<path d="M171.9,1675 L217.66,1674.63 C232.91,1669.49 248.17,1656.89 263.42,1644.62 C278.67,1632.35 293.93,1620.42 309.18,1607.74 C324.43,1595.07 339.69,1581.65 354.94,1568.24 C370.19,1554.84 385.45,1541.44 400.7,1522.74 C415.95,1504.04 431.21,1480.04 446.46,1449.99 C461.71,1419.93 476.97,1383.81 492.22,1357.52 C507.47,1331.23 522.73,1314.76 537.98,1302.4 C553.23,1290.03 568.49,1281.77 583.74,1276.14 C598.99,1270.5 614.25,1267.5 629.5,1264.5" fill="none" stroke="#000" stroke-width="3.4" stroke-linejoin="round"/>
<path d="M263.42,1636.37 V1644.37 M247.42,1636.37 H279.42 M247.42,1644.37 H279.42 M309.18,1576.22 V1641.02 M293.18,1576.22 H325.18 M293.18,1641.02 H325.18 M354.94,1551.13 V1579.53 M338.94,1551.13 H370.94 M338.94,1579.53 H370.94 M400.7,1502.73 V1547.13 M384.7,1502.73 H416.7 M384.7,1547.13 H416.7 M446.46,1442.17 V1473.77 M430.46,1442.17 H462.46 M430.46,1473.77 H462.46 M492.22,1312.15 V1382.15 M476.22,1312.15 H508.22 M476.22,1382.15 H508.22 M537.98,1283.44 V1325.44 M521.98,1283.44 H553.98 M521.98,1325.44 H553.98 M583.74,1252.78 V1298.38 M567.74,1252.78 H599.74 M567.74,1298.38 H599.74 M629.5,1243.77 V1287.77 M613.5,1243.77 H645.5 M613.5,1287.77 H645.5" fill="none" stroke="#000" stroke-width="3.4"/>
<rect x="162.9" y="1666" width="18.0" height="18.0" fill="#b2b2b2" stroke="#1e1e1e" stroke-width="3.3"/>
<rect x="208.66" y="1666" width="18.0" height="18.0" fill="#b2b2b2" stroke="#1e1e1e" stroke-width="3.3"/>
<rect x="254.42" y="1631.37" width="18.0" height="18.0" fill="#b2b2b2" stroke="#1e1e1e" stroke-width="3.3"/>
<rect x="300.18" y="1599.62" width="18.0" height="18.0" fill="#b2b2b2" stroke="#1e1e1e" stroke-width="3.3"/>
<rect x="345.94" y="1556.33" width="18.0" height="18.0" fill="#b2b2b2" stroke="#1e1e1e" stroke-width="3.3"/>
<rect x="391.7" y="1515.93" width="18.0" height="18.0" fill="#b2b2b2" stroke="#1e1e1e" stroke-width="3.3"/>
<rect x="437.46" y="1448.97" width="18.0" height="18.0" fill="#b2b2b2" stroke="#1e1e1e" stroke-width="3.3"/>
<rect x="483.22" y="1338.15" width="18.0" height="18.0" fill="#b2b2b2" stroke="#1e1e1e" stroke-width="3.3"/>
<rect x="528.98" y="1295.44" width="18.0" height="18.0" fill="#b2b2b2" stroke="#1e1e1e" stroke-width="3.3"/>
<rect x="574.74" y="1266.58" width="18.0" height="18.0" fill="#b2b2b2" stroke="#1e1e1e" stroke-width="3.3"/>
<rect x="620.5" y="1256.77" width="18.0" height="18.0" fill="#b2b2b2" stroke="#1e1e1e" stroke-width="3.3"/>
<path d="M171.9,1675 L217.66,1675 C232.91,1674.7 248.17,1673.96 263.42,1672.27 C278.67,1670.58 293.93,1667.95 309.18,1664.77 C324.43,1661.59 339.69,1657.85 354.94,1656.01 C370.19,1654.17 385.45,1654.23 400.7,1653.72 C415.95,1653.21 431.21,1652.14 446.46,1650.26 C461.71,1648.39 476.97,1645.71 492.22,1643.04 C507.47,1640.37 522.73,1637.71 537.98,1636.29 C553.23,1634.88 568.49,1634.72 583.74,1634.73 C598.99,1634.74 614.25,1634.92 629.5,1635.09" fill="none" stroke="#000" stroke-width="3.4" stroke-linejoin="round"/>
<path d="M309.18,1659.76 V1671.76 M293.18,1659.76 H325.18 M293.18,1671.76 H325.18 M354.94,1645.24 V1662.04 M338.94,1645.24 H370.94 M338.94,1662.04 H370.94 M400.7,1646.2 V1663.4 M384.7,1646.2 H416.7 M384.7,1663.4 H416.7 M446.46,1641.16 V1660.36 M430.46,1641.16 H462.46 M430.46,1660.36 H462.46 M492.22,1639.05 V1647.45 M476.22,1639.05 H508.22 M476.22,1647.45 H508.22 M537.98,1627.17 V1643.17 M521.98,1627.17 H553.98 M521.98,1643.17 H553.98 M583.74,1627.17 V1643.17 M567.74,1627.17 H599.74 M567.74,1643.17 H599.74 M629.5,1627.17 V1643.17 M613.5,1627.17 H645.5 M613.5,1643.17 H645.5" fill="none" stroke="#000" stroke-width="3.4"/>
<rect x="162.9" y="1666" width="18.0" height="18.0" fill="#313131" stroke="#1c1c1c" stroke-width="3.3"/>
<rect x="208.66" y="1666" width="18.0" height="18.0" fill="#313131" stroke="#1c1c1c" stroke-width="3.3"/>
<rect x="254.42" y="1663.69" width="18.0" height="18.0" fill="#313131" stroke="#1c1c1c" stroke-width="3.3"/>
<rect x="300.18" y="1656.76" width="18.0" height="18.0" fill="#313131" stroke="#1c1c1c" stroke-width="3.3"/>
<rect x="345.94" y="1644.64" width="18.0" height="18.0" fill="#313131" stroke="#1c1c1c" stroke-width="3.3"/>
<rect x="391.7" y="1645.8" width="18.0" height="18.0" fill="#313131" stroke="#1c1c1c" stroke-width="3.3"/>
<rect x="437.46" y="1641.76" width="18.0" height="18.0" fill="#313131" stroke="#1c1c1c" stroke-width="3.3"/>
<rect x="483.22" y="1634.25" width="18.0" height="18.0" fill="#313131" stroke="#1c1c1c" stroke-width="3.3"/>
<rect x="528.98" y="1626.17" width="18.0" height="18.0" fill="#313131" stroke="#1c1c1c" stroke-width="3.3"/>
<rect x="574.74" y="1626.17" width="18.0" height="18.0" fill="#313131" stroke="#1c1c1c" stroke-width="3.3"/>
<rect x="620.5" y="1626.17" width="18.0" height="18.0" fill="#313131" stroke="#1c1c1c" stroke-width="3.3"/>
<circle cx="192.4" cy="933.6" r="12.8" fill="#fff" stroke="#000" stroke-width="4.0"/>
<circle cx="192.4" cy="973.6" r="12.8" fill="#ababab" stroke="#000" stroke-width="4.0"/>
<rect x="181.5" y="1002.7" width="21.8" height="21.8" fill="#fff" stroke="#1e1e1e" stroke-width="3.7"/>
<rect x="181.5" y="1042.9" width="21.8" height="21.8" fill="#b2b2b2" stroke="#1e1e1e" stroke-width="3.7"/>
<rect x="181.5" y="1082.5" width="21.8" height="21.8" fill="#313131" stroke="#1c1c1c" stroke-width="3.7"/>
<g stroke="#000" stroke-width="3.4" fill="none">
<path d="M778.5,1097.6 H759 V1675.6 H778.5"/>
<path d="M759,1560 H778.5"/>
<path d="M759,1444.4 H778.5"/>
<path d="M759,1328.8 H778.5"/>
<path d="M759,1213.2 H778.5"/>
<path d="M802.2,1692.3 V1712.8 H1259.9 V1692.3"/>
<path d="M893.74,1712.8 V1692.3"/>
<path d="M985.28,1712.8 V1692.3"/>
<path d="M1076.82,1712.8 V1692.3"/>
<path d="M1168.36,1712.8 V1692.3"/>
</g>
<g fill="#000" style='font-family:"Liberation Sans", sans-serif;font-size:30px'>
<text x="741" y="1689.4" text-anchor="end">0</text>
<text x="738.7" y="1572.9" text-anchor="end">20</text>
<text x="738.3" y="1457.5" text-anchor="end">40</text>
<text x="738.3" y="1341.2" text-anchor="end">60</text>
<text x="738.3" y="1226" text-anchor="end">80</text>
<text x="735.8" y="1109.6" text-anchor="end">100</text>
<text x="801.6" y="1760.5" text-anchor="middle">0</text>
<text x="893.14" y="1760.5" text-anchor="middle">1</text>
<text x="984.68" y="1760.5" text-anchor="middle">2</text>
<text x="1076.22" y="1760.5" text-anchor="middle">3</text>
<text x="1167.76" y="1760.5" text-anchor="middle">4</text>
<text x="1259.3" y="1760.5" text-anchor="middle">5</text>
</g>
<path d="M802.2,1675.6 L847.97,1675.13 C863.23,1667.33 878.48,1648.2 893.74,1626.09 C909,1603.98 924.25,1578.89 939.51,1553.92 C954.77,1528.94 970.02,1504.09 985.28,1477.08 C1000.54,1450.07 1015.79,1420.89 1031.05,1385.42 C1046.31,1349.95 1061.56,1308.18 1076.82,1271.68 C1092.08,1235.18 1107.33,1203.95 1122.59,1177.29 C1137.85,1150.64 1153.1,1128.55 1168.36,1115.31 C1183.62,1102.06 1198.87,1097.65 1214.13,1095.96 C1229.39,1094.27 1244.64,1095.28 1259.9,1096.3" fill="none" stroke="#000" stroke-width="3.4" stroke-linejoin="round"/>
<path d="M893.74,1573.61 V1640.61 M877.74,1573.61 H909.74 M877.74,1640.61 H909.74 M939.51,1543.65 V1594.85 M923.51,1543.65 H955.51 M923.51,1594.85 H955.51 M985.28,1456.19 V1496.19 M969.28,1456.19 H1001.28 M969.28,1496.19 H1001.28 M1031.05,1370.86 V1415.06 M1015.05,1370.86 H1047.05 M1015.05,1415.06 H1047.05 M1076.82,1235.9 V1295.7 M1060.82,1235.9 H1092.82 M1060.82,1295.7 H1092.82 M1122.59,1144.38 V1214.98 M1106.59,1144.38 H1138.59 M1106.59,1214.98 H1138.59 M1168.36,1103.62 V1117.02 M1152.36,1103.62 H1184.36 M1152.36,1117.02 H1184.36" fill="none" stroke="#000" stroke-width="3.4"/>
<circle cx="802.2" cy="1675.6" r="10.95" fill="#fff" stroke="#000" stroke-width="3.7"/>
<circle cx="847.97" cy="1675.6" r="10.95" fill="#fff" stroke="#000" stroke-width="3.7"/>
<circle cx="893.74" cy="1607.11" r="10.95" fill="#fff" stroke="#000" stroke-width="3.7"/>
<circle cx="939.51" cy="1569.25" r="10.95" fill="#fff" stroke="#000" stroke-width="3.7"/>
<circle cx="985.28" cy="1476.19" r="10.95" fill="#fff" stroke="#000" stroke-width="3.7"/>
<circle cx="1031.05" cy="1392.96" r="10.95" fill="#fff" stroke="#000" stroke-width="3.7"/>
<circle cx="1076.82" cy="1265.8" r="10.95" fill="#fff" stroke="#000" stroke-width="3.7"/>
<circle cx="1122.59" cy="1179.68" r="10.95" fill="#fff" stroke="#000" stroke-width="3.7"/>
<circle cx="1168.36" cy="1110.32" r="10.95" fill="#fff" stroke="#000" stroke-width="3.7"/>
<circle cx="1214.13" cy="1097.6" r="10.95" fill="#fff" stroke="#000" stroke-width="3.7"/>
<circle cx="1259.9" cy="1097.6" r="10.95" fill="#fff" stroke="#000" stroke-width="3.7"/>
<path d="M802.2,1675.6 L847.97,1675.13 C863.23,1667.22 878.48,1647.82 893.74,1625.01 C909,1602.21 924.25,1576.01 939.51,1551.53 C954.77,1527.04 970.02,1504.26 985.28,1481.88 C1000.54,1459.49 1015.79,1437.5 1031.05,1400.33 C1046.31,1363.15 1061.56,1310.8 1076.82,1266.53 C1092.08,1222.26 1107.33,1186.07 1122.59,1161.64 C1137.85,1137.21 1153.1,1124.53 1168.36,1115.51 C1183.62,1106.49 1198.87,1101.11 1214.13,1098.51 C1229.39,1095.91 1244.64,1096.09 1259.9,1096.27" fill="none" stroke="#000" stroke-width="3.4" stroke-linejoin="round"/>
<path d="M893.74,1584.22 V1650.22 M877.74,1584.22 H909.74 M877.74,1650.22 H909.74 M939.51,1532.51 V1560.91 M923.51,1532.51 H955.51 M923.51,1560.91 H955.51 M985.28,1454.73 V1495.33 M969.28,1454.73 H1001.28 M969.28,1495.33 H1001.28 M1031.05,1372.37 V1465.57 M1015.05,1372.37 H1047.05 M1015.05,1465.57 H1047.05 M1076.82,1233.63 V1280.63 M1060.82,1233.63 H1092.82 M1060.82,1280.63 H1092.82 M1122.59,1144.68 V1167.28 M1106.59,1144.68 H1138.59 M1106.59,1167.28 H1138.59 M1168.36,1103.29 V1134.69 M1152.36,1103.29 H1184.36 M1152.36,1134.69 H1184.36" fill="none" stroke="#000" stroke-width="3.4"/>
<circle cx="802.2" cy="1675.6" r="10.95" fill="#ababab" stroke="#000" stroke-width="3.7"/>
<circle cx="847.97" cy="1675.6" r="10.95" fill="#ababab" stroke="#000" stroke-width="3.7"/>
<circle cx="893.74" cy="1617.22" r="10.95" fill="#ababab" stroke="#000" stroke-width="3.7"/>
<circle cx="939.51" cy="1546.71" r="10.95" fill="#ababab" stroke="#000" stroke-width="3.7"/>
<circle cx="985.28" cy="1475.03" r="10.95" fill="#ababab" stroke="#000" stroke-width="3.7"/>
<circle cx="1031.05" cy="1418.97" r="10.95" fill="#ababab" stroke="#000" stroke-width="3.7"/>
<circle cx="1076.82" cy="1257.13" r="10.95" fill="#ababab" stroke="#000" stroke-width="3.7"/>
<circle cx="1122.59" cy="1155.98" r="10.95" fill="#ababab" stroke="#000" stroke-width="3.7"/>
<circle cx="1168.36" cy="1118.99" r="10.95" fill="#ababab" stroke="#000" stroke-width="3.7"/>
<circle cx="1214.13" cy="1097.6" r="10.95" fill="#ababab" stroke="#000" stroke-width="3.7"/>
<circle cx="1259.9" cy="1097.6" r="10.95" fill="#ababab" stroke="#000" stroke-width="3.7"/>
<path d="M802.2,1675.6 L847.97,1675.1 C863.23,1667.82 878.48,1650 893.74,1632.01 C909,1614.02 924.25,1595.86 939.51,1577.56 C954.77,1559.26 970.02,1540.82 985.28,1518.22 C1000.54,1495.62 1015.79,1468.85 1031.05,1434.24 C1046.31,1399.63 1061.56,1357.16 1076.82,1317.11 C1092.08,1277.06 1107.33,1239.41 1122.59,1212.29 C1137.85,1185.18 1153.1,1168.59 1168.36,1156.89 C1183.62,1145.18 1198.87,1138.36 1214.13,1134.9 C1229.39,1131.44 1244.64,1131.34 1259.9,1131.24" fill="none" stroke="#000" stroke-width="3.4" stroke-linejoin="round"/>
<path d="M893.74,1622.05 V1632.05 M877.74,1622.05 H909.74 M877.74,1632.05 H909.74 M939.51,1560.61 V1590.61 M923.51,1560.61 H955.51 M923.51,1590.61 H955.51 M985.28,1495.68 V1541.08 M969.28,1495.68 H1001.28 M969.28,1541.08 H1001.28 M1031.05,1416.93 V1464.93 M1015.05,1416.93 H1047.05 M1015.05,1464.93 H1047.05 M1076.82,1259.08 V1373.08 M1060.82,1259.08 H1092.82 M1060.82,1373.08 H1092.82 M1122.59,1161.69 V1249.69 M1106.59,1161.69 H1138.59 M1106.59,1249.69 H1138.59 M1168.36,1135.37 V1182.37 M1152.36,1135.37 H1184.36 M1152.36,1182.37 H1184.36 M1214.13,1113.41 V1154.61 M1198.13,1113.41 H1230.13 M1198.13,1154.61 H1230.13 M1259.9,1112.26 V1153.46 M1243.9,1112.26 H1275.9 M1243.9,1153.46 H1275.9" fill="none" stroke="#000" stroke-width="3.4"/>
<rect x="793.2" y="1666.6" width="18.0" height="18.0" fill="#fff" stroke="#1e1e1e" stroke-width="3.3"/>
<rect x="838.97" y="1666.6" width="18.0" height="18.0" fill="#fff" stroke="#1e1e1e" stroke-width="3.3"/>
<rect x="884.74" y="1618.05" width="18.0" height="18.0" fill="#fff" stroke="#1e1e1e" stroke-width="3.3"/>
<rect x="930.51" y="1566.61" width="18.0" height="18.0" fill="#fff" stroke="#1e1e1e" stroke-width="3.3"/>
<rect x="976.28" y="1509.38" width="18.0" height="18.0" fill="#fff" stroke="#1e1e1e" stroke-width="3.3"/>
<rect x="1022.05" y="1431.93" width="18.0" height="18.0" fill="#fff" stroke="#1e1e1e" stroke-width="3.3"/>
<rect x="1067.82" y="1307.08" width="18.0" height="18.0" fill="#fff" stroke="#1e1e1e" stroke-width="3.3"/>
<rect x="1113.59" y="1196.69" width="18.0" height="18.0" fill="#fff" stroke="#1e1e1e" stroke-width="3.3"/>
<rect x="1159.36" y="1149.87" width="18.0" height="18.0" fill="#fff" stroke="#1e1e1e" stroke-width="3.3"/>
<rect x="1205.13" y="1125.01" width="18.0" height="18.0" fill="#fff" stroke="#1e1e1e" stroke-width="3.3"/>
<rect x="1250.9" y="1123.86" width="18.0" height="18.0" fill="#fff" stroke="#1e1e1e" stroke-width="3.3"/>
<path d="M802.2,1675.6 L847.97,1675.29 C863.23,1671.27 878.48,1661.44 893.74,1652.99 C909,1644.55 924.25,1637.48 939.51,1631.88 C954.77,1626.27 970.02,1622.14 985.28,1609.51 C1000.54,1596.88 1015.79,1575.76 1031.05,1551.02 C1046.31,1526.29 1061.56,1497.95 1076.82,1475.14 C1092.08,1452.33 1107.33,1435.06 1122.59,1417.8 C1137.85,1400.54 1153.1,1383.28 1168.36,1368.95 C1183.62,1354.63 1198.87,1343.24 1214.13,1335.94 C1229.39,1328.64 1244.64,1325.43 1259.9,1322.21" fill="none" stroke="#000" stroke-width="3.4" stroke-linejoin="round"/>
<path d="M893.74,1639.59 V1659.59 M877.74,1639.59 H909.74 M877.74,1659.59 H909.74 M939.51,1610.55 V1643.55 M923.51,1610.55 H955.51 M923.51,1643.55 H955.51 M985.28,1603.44 V1629.84 M969.28,1603.44 H1001.28 M969.28,1629.84 H1001.28 M1031.05,1532.76 V1573.36 M1015.05,1532.76 H1047.05 M1015.05,1573.36 H1047.05 M1076.82,1446.6 V1489.6 M1060.82,1446.6 H1092.82 M1060.82,1489.6 H1092.82 M1122.59,1401.86 V1441.86 M1106.59,1401.86 H1138.59 M1106.59,1441.86 H1138.59 M1168.36,1340.6 V1395.6 M1152.36,1340.6 H1184.36 M1152.36,1395.6 H1184.36 M1214.13,1324.22 V1342.62 M1198.13,1324.22 H1230.13 M1198.13,1342.62 H1230.13 M1259.9,1311.98 V1336.38 M1243.9,1311.98 H1275.9 M1243.9,1336.38 H1275.9" fill="none" stroke="#000" stroke-width="3.4"/>
<rect x="793.2" y="1666.6" width="18.0" height="18.0" fill="#b2b2b2" stroke="#1e1e1e" stroke-width="3.3"/>
<rect x="838.97" y="1666.6" width="18.0" height="18.0" fill="#b2b2b2" stroke="#1e1e1e" stroke-width="3.3"/>
<rect x="884.74" y="1640.59" width="18.0" height="18.0" fill="#b2b2b2" stroke="#1e1e1e" stroke-width="3.3"/>
<rect x="930.51" y="1618.05" width="18.0" height="18.0" fill="#b2b2b2" stroke="#1e1e1e" stroke-width="3.3"/>
<rect x="976.28" y="1607.64" width="18.0" height="18.0" fill="#b2b2b2" stroke="#1e1e1e" stroke-width="3.3"/>
<rect x="1022.05" y="1544.06" width="18.0" height="18.0" fill="#b2b2b2" stroke="#1e1e1e" stroke-width="3.3"/>
<rect x="1067.82" y="1459.1" width="18.0" height="18.0" fill="#b2b2b2" stroke="#1e1e1e" stroke-width="3.3"/>
<rect x="1113.59" y="1412.86" width="18.0" height="18.0" fill="#b2b2b2" stroke="#1e1e1e" stroke-width="3.3"/>
<rect x="1159.36" y="1359.1" width="18.0" height="18.0" fill="#b2b2b2" stroke="#1e1e1e" stroke-width="3.3"/>
<rect x="1205.13" y="1324.42" width="18.0" height="18.0" fill="#b2b2b2" stroke="#1e1e1e" stroke-width="3.3"/>
<rect x="1250.9" y="1315.18" width="18.0" height="18.0" fill="#b2b2b2" stroke="#1e1e1e" stroke-width="3.3"/>
<path d="M802.2,1675.6 L847.97,1675.63 C863.23,1675.61 878.48,1675.52 893.74,1673.89 C909,1672.26 924.25,1669.09 939.51,1666.45 C954.77,1663.81 970.02,1661.7 985.28,1659.59 C1000.54,1657.49 1015.79,1655.38 1031.05,1653.58 C1046.31,1651.78 1061.56,1650.29 1076.82,1649.53 C1092.08,1648.76 1107.33,1648.72 1122.59,1648.75 C1137.85,1648.78 1153.1,1648.88 1168.36,1648.94 C1183.62,1649 1198.87,1649.02 1214.13,1649.02 C1229.39,1649.03 1244.64,1649.02 1259.9,1649.02" fill="none" stroke="#000" stroke-width="3.4" stroke-linejoin="round"/>
<path d="M939.51,1654.2 V1676.2 M923.51,1654.2 H955.51 M923.51,1676.2 H955.51 M985.28,1649.59 V1670.39 M969.28,1649.59 H1001.28 M969.28,1670.39 H1001.28 M1031.05,1643.24 V1664.04 M1015.05,1643.24 H1047.05 M1015.05,1664.04 H1047.05 M1076.82,1638.51 V1659.51 M1060.82,1638.51 H1092.82 M1060.82,1659.51 H1092.82 M1122.59,1638.51 V1659.51 M1106.59,1638.51 H1138.59 M1106.59,1659.51 H1138.59 M1168.36,1638.51 V1659.51 M1152.36,1638.51 H1184.36 M1152.36,1659.51 H1184.36 M1214.13,1638.51 V1659.51 M1198.13,1638.51 H1230.13 M1198.13,1659.51 H1230.13 M1259.9,1638.51 V1659.51 M1243.9,1638.51 H1275.9 M1243.9,1659.51 H1275.9" fill="none" stroke="#000" stroke-width="3.4"/>
<rect x="793.2" y="1666.6" width="18.0" height="18.0" fill="#313131" stroke="#1c1c1c" stroke-width="3.3"/>
<rect x="838.97" y="1666.6" width="18.0" height="18.0" fill="#313131" stroke="#1c1c1c" stroke-width="3.3"/>
<rect x="884.74" y="1666.6" width="18.0" height="18.0" fill="#313131" stroke="#1c1c1c" stroke-width="3.3"/>
<rect x="930.51" y="1656.2" width="18.0" height="18.0" fill="#313131" stroke="#1c1c1c" stroke-width="3.3"/>
<rect x="976.28" y="1650.99" width="18.0" height="18.0" fill="#313131" stroke="#1c1c1c" stroke-width="3.3"/>
<rect x="1022.05" y="1644.64" width="18.0" height="18.0" fill="#313131" stroke="#1c1c1c" stroke-width="3.3"/>
<rect x="1067.82" y="1640.01" width="18.0" height="18.0" fill="#313131" stroke="#1c1c1c" stroke-width="3.3"/>
<rect x="1113.59" y="1640.01" width="18.0" height="18.0" fill="#313131" stroke="#1c1c1c" stroke-width="3.3"/>
<rect x="1159.36" y="1640.01" width="18.0" height="18.0" fill="#313131" stroke="#1c1c1c" stroke-width="3.3"/>
<rect x="1205.13" y="1640.01" width="18.0" height="18.0" fill="#313131" stroke="#1c1c1c" stroke-width="3.3"/>
<rect x="1250.9" y="1640.01" width="18.0" height="18.0" fill="#313131" stroke="#1c1c1c" stroke-width="3.3"/>
<circle cx="814.2" cy="933.7" r="12.8" fill="#fff" stroke="#000" stroke-width="4.0"/>
<circle cx="814.2" cy="973.4" r="12.8" fill="#ababab" stroke="#000" stroke-width="4.0"/>
<rect x="803.3" y="1002.8" width="21.8" height="21.8" fill="#fff" stroke="#1e1e1e" stroke-width="3.7"/>
<rect x="803.3" y="1042.4" width="21.8" height="21.8" fill="#b2b2b2" stroke="#1e1e1e" stroke-width="3.7"/>
<rect x="803.3" y="1082.5" width="21.8" height="21.8" fill="#313131" stroke="#1c1c1c" stroke-width="3.7"/>
<g stroke="#1a1a1a" stroke-width="3.4" fill="none">
<path d="M341.7,1855.6 H314.7 V2495.5 H637.5"/>
<path d="M314.7,2388.85 H341.7"/>
<path d="M314.7,2282.2 H341.7"/>
<path d="M314.7,2175.55 H341.7"/>
<path d="M314.7,2068.9 H341.7"/>
<path d="M314.7,1962.25 H341.7"/>
</g>
<g style='font-family:"Liberation Sans", sans-serif;font-size:29.5px' fill="#1a1a1a">
<text x="300.3" y="2505.9" text-anchor="end">0</text>
<text x="300.3" y="2399.25" text-anchor="end">1</text>
<text x="300.3" y="2292.6" text-anchor="end">2</text>
<text x="300.3" y="2185.95" text-anchor="end">3</text>
<text x="300.3" y="2079.3" text-anchor="end">4</text>
<text x="300.3" y="1972.65" text-anchor="end">5</text>
<text x="300.3" y="1866" text-anchor="end">6</text>
</g>
<path d="M375.9,2388.85 V2373.92 M361.6,2373.92 H390.2" stroke="#1a1a1a" stroke-width="3.2" fill="none"/>
<rect x="350.7" y="2390.45" width="50.4" height="105.05" fill="#ffffff" stroke="#1a1a1a" stroke-width="3.2"/>
<path d="M447.2,1951.59 V1934.52 M432.9,1934.52 H461.5" stroke="#1a1a1a" stroke-width="3.2" fill="none"/>
<rect x="421.8" y="1953.18" width="50.8" height="542.31" fill="#d1d2d4" stroke="#1a1a1a" stroke-width="3.2"/>
<path d="M518.25,2201.15 V2191.55 M503.95,2191.55 H532.55" stroke="#1a1a1a" stroke-width="3.2" fill="none"/>
<rect x="493.1" y="2202.75" width="50.3" height="292.75" fill="#808184" stroke="#1a1a1a" stroke-width="3.2"/>
<path d="M589.4,2445.91 V2430.98 M575.1,2430.98 H603.7" stroke="#1a1a1a" stroke-width="3.2" fill="none"/>
<rect x="563.5" y="2447.51" width="51.8" height="47.99" fill="#231f20" stroke="#1a1a1a" stroke-width="3.2"/>
<path d="M314.7,2495.5 H637.5" stroke="#1a1a1a" stroke-width="3.4"/>
<path d="M447.4,1920.5 V1908.7 H589.5 V2412" fill="none" stroke="#1a1a1a" stroke-width="3"/>
<g style='font-family:"Liberation Sans", sans-serif;font-size:33px' fill="#1a1a1a">
<text x="375.9" y="2550.1" text-anchor="middle">0</text>
<text x="375.9" y="2597.7" text-anchor="middle">0</text>
<text x="447.2" y="2550.1" text-anchor="middle">1</text>
<text x="447.2" y="2597.7" text-anchor="middle">0</text>
<text x="518.3" y="2550.1" text-anchor="middle">1</text>
<text x="518.3" y="2597.7" text-anchor="middle">1</text>
<text x="589.4" y="2550.1" text-anchor="middle">1</text>
<text x="589.4" y="2597.7" text-anchor="middle">5</text>
</g>
<text transform="translate(230.81,39.4) scale(1.04,1)" textLength="55.27" lengthAdjust="spacing" fill="#000" style='font-family:"Liberation Sans", sans-serif;font-size:29.5px;'>Ctrl.</text>
<text transform="translate(232.01,80) scale(1.04,1)" textLength="89.24" lengthAdjust="spacing" fill="#000" style='font-family:"Liberation Sans", sans-serif;font-size:29.5px;'>DMSO</text>
<text transform="translate(231.8,120.3) scale(1,1)" textLength="201.72" lengthAdjust="spacing" fill="#000" style='font-family:"Liberation Sans", sans-serif;font-size:29.5px;'>0.5 nM A-83-01</text>
<text transform="translate(231.8,159.4)" textLength="176.21" lengthAdjust="spacing" fill="#000" style='font-family:"Liberation Sans", sans-serif;font-size:29.5px;'>5 nM A-83-01</text>
<text transform="translate(231.8,198.4)" textLength="193.02" lengthAdjust="spacing" fill="#000" style='font-family:"Liberation Sans", sans-serif;font-size:29.5px;'>50 nM A-83-01</text>
<text transform="translate(377.97,893.1) scale(1.01,1)" textLength="61.36" lengthAdjust="spacing" fill="#000" style='font-family:"Liberation Sans", sans-serif;font-size:34.5px;'>Day</text>
<text transform="translate(53.7,738.5) rotate(-90) scale(1,1)" textLength="506.62" lengthAdjust="spacing" fill="#000" style='font-family:"Liberation Sans", sans-serif;font-size:29.6px;'>Relative rate of bud-bearing Hydra (%)</text>
<text transform="translate(18.25,39.6)" fill="#000" style='font-family:"Liberation Sans", sans-serif;font-size:38.5px;font-weight:bold'>a</text>
<text transform="translate(849.81,34.5) scale(1.04,1)" textLength="55.27" lengthAdjust="spacing" fill="#000" style='font-family:"Liberation Sans", sans-serif;font-size:29.5px;'>Ctrl.</text>
<text transform="translate(849.81,73.8) scale(1.04,1)" textLength="89.24" lengthAdjust="spacing" fill="#000" style='font-family:"Liberation Sans", sans-serif;font-size:29.5px;'>DMSO</text>
<text transform="translate(850.89,114.8) scale(1.01,1)" textLength="227.75" lengthAdjust="spacing" fill="#000" style='font-family:"Liberation Sans", sans-serif;font-size:29.5px;'>0.1<tspan style="font-style:italic">μ</tspan>M SB505124</text>
<text transform="translate(850.78,154.4) scale(1.01,1)" textLength="211.34" lengthAdjust="spacing" fill="#000" style='font-family:"Liberation Sans", sans-serif;font-size:29.5px;'>1 <tspan style="font-style:italic">μ</tspan>M SB505124</text>
<text transform="translate(850.77,194.4) scale(1.01,1)" textLength="227.75" lengthAdjust="spacing" fill="#000" style='font-family:"Liberation Sans", sans-serif;font-size:29.5px;'>10 <tspan style="font-style:italic">μ</tspan>M SB505124</text>
<text transform="translate(1003.47,893.1) scale(1.01,1)" textLength="61.36" lengthAdjust="spacing" fill="#000" style='font-family:"Liberation Sans", sans-serif;font-size:34.5px;'>Day</text>
<text transform="translate(724.6,39.4)" fill="#000" style='font-family:"Liberation Sans", sans-serif;font-size:38.5px;font-weight:bold'>b</text>
<text transform="translate(226.11,945.2) scale(1.04,1)" textLength="55.94" lengthAdjust="spacing" fill="#000" style='font-family:"Liberation Sans", sans-serif;font-size:29.5px;'>Ctrl.</text>
<text transform="translate(226.51,984.7) scale(1.04,1)" textLength="90.29" lengthAdjust="spacing" fill="#000" style='font-family:"Liberation Sans", sans-serif;font-size:29.5px;'>DMSO</text>
<text transform="translate(227.78,1024.2) scale(1.01,1)" textLength="213.23" lengthAdjust="spacing" fill="#000" style='font-family:"Liberation Sans", sans-serif;font-size:29.5px;'>1 nM LY-364947</text>
<text transform="translate(227.77,1063.7) scale(1.02,1)" textLength="229.64" lengthAdjust="spacing" fill="#000" style='font-family:"Liberation Sans", sans-serif;font-size:29.5px;'>10 nM LY-364947</text>
<text transform="translate(227.77,1103.5) scale(1.01,1)" textLength="246.05" lengthAdjust="spacing" fill="#000" style='font-family:"Liberation Sans", sans-serif;font-size:29.5px;'>100 nM LY-364947</text>
<text transform="translate(366.1,1812.3)" textLength="52.64" lengthAdjust="spacing" fill="#000" style='font-family:"Liberation Sans", sans-serif;font-size:29.6px;'>Day</text>
<text transform="translate(54.3,1647.01) rotate(-90) scale(1.01,1)" textLength="506.63" lengthAdjust="spacing" fill="#000" style='font-family:"Liberation Sans", sans-serif;font-size:29.6px;'>Relative rate of bud-bearing Hydra (%)</text>
<text transform="translate(5.3,946.6)" fill="#000" style='font-family:"Liberation Sans", sans-serif;font-size:38.5px;font-weight:bold'>c</text>
<text transform="translate(847.41,944) scale(1.04,1)" textLength="54.7" lengthAdjust="spacing" fill="#000" style='font-family:"Liberation Sans", sans-serif;font-size:29.5px;'>Ctrl.</text>
<text transform="translate(847.41,984.7) scale(1.04,1)" textLength="89.72" lengthAdjust="spacing" fill="#000" style='font-family:"Liberation Sans", sans-serif;font-size:29.5px;'>DMSO</text>
<text transform="translate(847.98,1024.5) scale(1.02,1)" textLength="198.19" lengthAdjust="spacing" fill="#000" style='font-family:"Liberation Sans", sans-serif;font-size:29.5px;'>0.1 <tspan style="font-style:italic">μ</tspan>M SD-208</text>
<text transform="translate(847.98,1063.5) scale(1.02,1)" textLength="198.19" lengthAdjust="spacing" fill="#000" style='font-family:"Liberation Sans", sans-serif;font-size:29.5px;'>0.5 <tspan style="font-style:italic">μ</tspan>M SD-208</text>
<text transform="translate(847.98,1102.5) scale(1.02,1)" textLength="198.19" lengthAdjust="spacing" fill="#000" style='font-family:"Liberation Sans", sans-serif;font-size:29.5px;'>2.5 <tspan style="font-style:italic">μ</tspan>M SD-208</text>
<text transform="translate(994.72,1812.3) scale(1.04,1)" textLength="52.64" lengthAdjust="spacing" fill="#000" style='font-family:"Liberation Sans", sans-serif;font-size:29.6px;'>Day</text>
<text transform="translate(734.4,946)" fill="#000" style='font-family:"Liberation Sans", sans-serif;font-size:38.5px;font-weight:bold'>d</text>
<text transform="translate(509.4,1904.5)" fill="#1a1a1a" style='font-family:"Liberation Sans", sans-serif;font-size:29px;'>*</text>
<text transform="translate(469.38,1874.6) scale(1.02,1)" textLength="109.56" lengthAdjust="spacing" fill="#1a1a1a" style='font-family:"Liberation Sans", sans-serif;font-size:34px;font-style:italic'>HmPitx</text>
<text transform="translate(254.7,2350.3) rotate(-90) scale(1,1)" textLength="338.5" lengthAdjust="spacing" fill="#1a1a1a" style='font-family:"Liberation Sans", sans-serif;font-size:35px;'>Relative copy number</text>
<text transform="translate(13.2,1868.6)" fill="#000" style='font-family:"Liberation Sans", sans-serif;font-size:38.5px;font-weight:bold'>e</text>
<text transform="translate(166.2,2550.1) scale(1.04,1)" textLength="139.98" lengthAdjust="spacing" fill="#1a1a1a" style='font-family:"Liberation Sans", sans-serif;font-size:33px;'>ALP (<tspan style="font-style:italic">μ</tspan>M)</text>
<text transform="translate(112.91,2597.7) scale(1.04,1)" textLength="191.46" lengthAdjust="spacing" fill="#1a1a1a" style='font-family:"Liberation Sans", sans-serif;font-size:33px;'>iCRT14 (<tspan style="font-style:italic">μ</tspan>M)</text>
</svg></body></html>
